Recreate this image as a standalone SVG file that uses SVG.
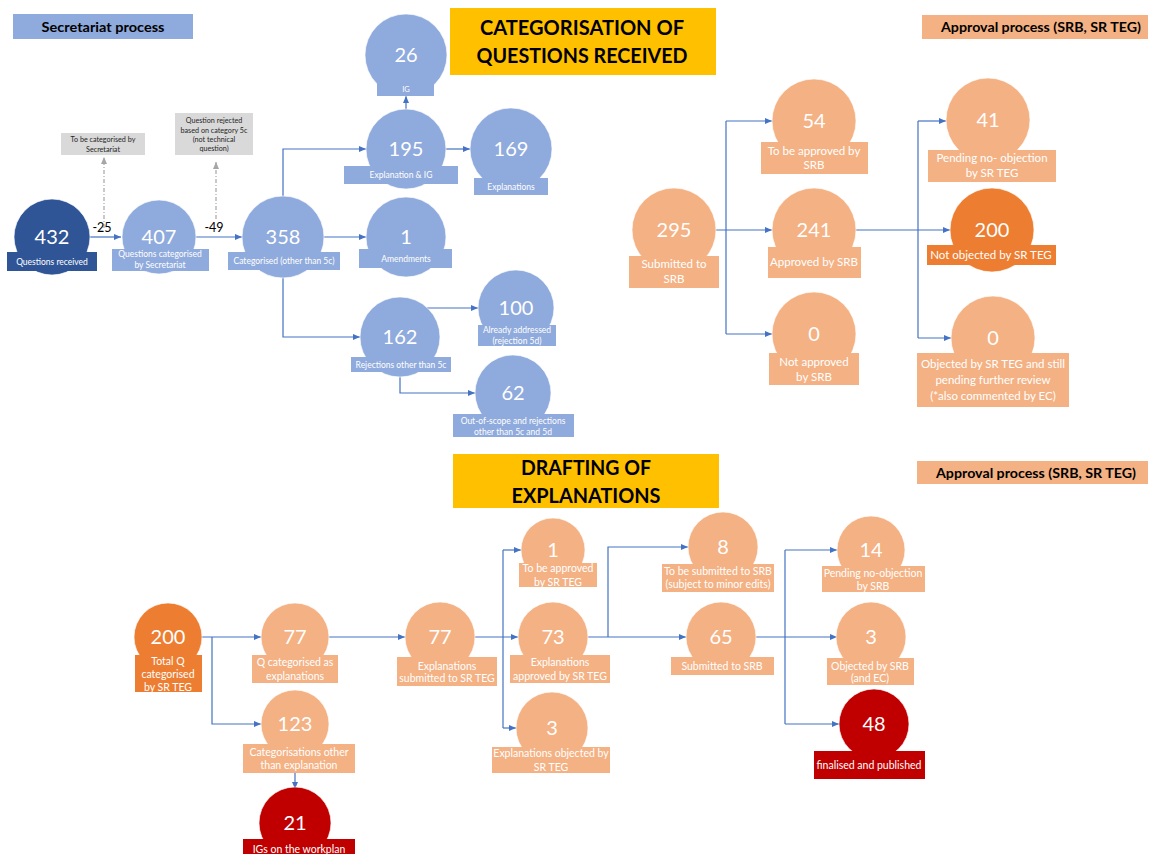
<svg xmlns="http://www.w3.org/2000/svg" width="1152" height="854" viewBox="0 0 1152 854">
<style>
text{font-family:Lato,"Liberation Sans",sans-serif;text-anchor:middle}
.b{fill:#8faadc}.db{fill:#2f5597}.lo{fill:#f4b183}.o{fill:#ed7d31}.r{fill:#c00000}.y{fill:#ffc000}.g{fill:#d9d9d9}
circle{stroke:#ffffff;stroke-width:1;stroke-opacity:0.6}
.n{fill:#fff;font-size:20px}
.ls{fill:#fff;font-size:8.5px}
.lm{fill:#fff;font-size:11.5px}
.lb{fill:#fff;font-size:10.5px}
.gt{fill:#262626;font-size:7.2px}
.h{fill:#000;font-weight:bold;font-size:14px}
.hb{fill:#000;font-weight:bold;font-size:20px}
.k{fill:#000;font-size:12.5px}
.c{fill:none;stroke:#4472c4;stroke-width:1.2}
.d{fill:none;stroke:#a6a6a6;stroke-width:1.2;stroke-dasharray:4 2 1 2}
</style>
<defs>
<marker id="a" markerUnits="userSpaceOnUse" markerWidth="7" markerHeight="6" refX="7" refY="3" orient="auto"><path d="M0,0 L7,3 L0,6 Z" fill="#4472c4"/></marker>
<marker id="ag" markerUnits="userSpaceOnUse" markerWidth="7" markerHeight="6" refX="7" refY="3" orient="auto"><path d="M0,0 L7,3 L0,6 Z" fill="#a6a6a6"/></marker>
</defs>

<g id="headers">
<rect class="b" x="13" y="14" width="180" height="25"/>
<text class="h" x="103" y="32" textLength="123" lengthAdjust="spacingAndGlyphs">Secretariat process</text>
<rect class="y" x="450" y="8" width="266" height="67"/>
<text class="hb" x="582" y="35" textLength="204" lengthAdjust="spacingAndGlyphs">CATEGORISATION OF</text>
<text class="hb" x="582" y="63" textLength="211" lengthAdjust="spacingAndGlyphs">QUESTIONS RECEIVED</text>
<rect class="lo" x="922" y="15" width="226" height="24"/>
<text class="h" x="1041" y="32" textLength="200" lengthAdjust="spacingAndGlyphs">Approval process (SRB, SR TEG)</text>
<rect class="y" x="453" y="454" width="266" height="54"/>
<text class="hb" x="586" y="475" textLength="130" lengthAdjust="spacingAndGlyphs">DRAFTING OF</text>
<text class="hb" x="586" y="503" textLength="149" lengthAdjust="spacingAndGlyphs">EXPLANATIONS</text>
<rect class="lo" x="917" y="461" width="231" height="23"/>
<text class="h" x="1036" y="478" textLength="200" lengthAdjust="spacingAndGlyphs">Approval process (SRB, SR TEG)</text>
</g>

<g id="connectors">
<path class="c" marker-end="url(#a)" d="M90 237 H121"/>
<path class="c" marker-end="url(#a)" d="M196 237 H242"/>
<path class="c" marker-end="url(#a)" d="M283 196 V149 H366"/>
<path class="c" marker-end="url(#a)" d="M324 237 H366"/>
<path class="c" marker-end="url(#a)" d="M283 278 V337 H360"/>
<path class="c" marker-end="url(#a)" d="M406 109 V96"/>
<path class="c" marker-end="url(#a)" d="M446 149 H470"/>
<path class="c" marker-end="url(#a)" d="M427 308 H478"/>
<path class="c" marker-end="url(#a)" d="M400 377 V393 H475"/>
<path class="d" marker-end="url(#ag)" d="M104 228 V157"/>
<path class="d" marker-end="url(#ag)" d="M216 219 V162"/>
<path class="c" marker-end="url(#a)" d="M716 230 H772"/>
<path class="c" d="M726 121 V334"/>
<path class="c" marker-end="url(#a)" d="M726 121 H772"/>
<path class="c" marker-end="url(#a)" d="M726 334 H772"/>
<path class="c" marker-end="url(#a)" d="M856 230 H950"/>
<path class="c" d="M918 121 V338"/>
<path class="c" marker-end="url(#a)" d="M918 121 H946"/>
<path class="c" marker-end="url(#a)" d="M918 338 H951"/>
<path class="c" marker-end="url(#a)" d="M202 637 H261"/>
<path class="c" marker-end="url(#a)" d="M212 637 V724 H261"/>
<path class="c" marker-end="url(#a)" d="M295 773 V789"/>
<path class="c" marker-end="url(#a)" d="M329 637 H405"/>
<path class="c" marker-end="url(#a)" d="M475 637 H518"/>
<path class="c" d="M503 550 V728"/>
<path class="c" marker-end="url(#a)" d="M503 550 H521"/>
<path class="c" marker-end="url(#a)" d="M503 728 H516"/>
<path class="c" marker-end="url(#a)" d="M588 637 H686"/>
<path class="c" marker-end="url(#a)" d="M608 637 V547 H688"/>
<path class="c" marker-end="url(#a)" d="M756 637 H837"/>
<path class="c" d="M785 550 V724"/>
<path class="c" marker-end="url(#a)" d="M785 550 H837"/>
<path class="c" marker-end="url(#a)" d="M785 724 H839"/>
<text class="k" x="102" y="232">-25</text>
<text class="k" x="214" y="232">-49</text>
</g>

<g id="note-25">
<rect class="g" x="61" y="133" width="84" height="22"/>
<text class="gt" x="103" y="142">To be categorised by</text>
<text class="gt" x="103" y="152">Secretariat</text>
</g>
<g id="note-49">
<rect class="g" x="175" y="113" width="78" height="42"/>
<text class="gt" x="214" y="123">Question rejected</text>
<text class="gt" x="214" y="133">based on category 5c</text>
<text class="gt" x="214" y="142">(not technical</text>
<text class="gt" x="214" y="151">question)</text>
</g>

<g id="n432"><circle class="db" cx="52" cy="237" r="38"/><rect class="db" x="7" y="252" width="90" height="19"/><text class="n" x="52" y="244">432</text><text class="ls" x="52" y="265">Questions received</text></g>
<g id="n407"><circle class="b" cx="159" cy="237" r="37"/><rect class="b" x="112" y="249" width="97" height="22"/><text class="n" x="159" y="244">407</text><text class="ls" x="160" y="257">Questions categorised</text><text class="ls" x="160" y="268">by Secretariat</text></g>
<g id="n358"><circle class="b" cx="283" cy="237" r="41"/><rect class="b" x="228" y="252" width="112" height="18"/><text class="n" x="283" y="244">358</text><text class="ls" x="284" y="264">Categorised (other than 5c)</text></g>
<g id="n26"><circle class="b" cx="406" cy="55" r="41"/><rect class="b" x="377" y="83" width="57" height="13"/><text class="n" x="406" y="62">26</text><text class="ls" x="406" y="92" style="font-size:7.5px">IG</text></g>
<g id="n195"><circle class="b" cx="406" cy="149" r="40"/><rect class="b" x="344" y="166" width="114" height="18"/><text class="n" x="406" y="156">195</text><text class="ls" x="401" y="178">Explanation &amp; IG</text></g>
<g id="n169"><circle class="b" cx="511" cy="149" r="41"/><rect class="b" x="474" y="178" width="74" height="17"/><text class="n" x="511" y="156">169</text><text class="ls" x="511" y="190">Explanations</text></g>
<g id="n1a"><circle class="b" cx="406" cy="237" r="40"/><rect class="b" x="359" y="249" width="93" height="19"/><text class="n" x="406" y="244">1</text><text class="ls" x="406" y="262">Amendments</text></g>
<g id="n162"><circle class="b" cx="400" cy="337" r="40"/><rect class="b" x="351" y="357" width="100" height="15"/><text class="n" x="400" y="344">162</text><text class="ls" x="401" y="368">Rejections other than 5c</text></g>
<g id="n100"><circle class="b" cx="516" cy="308" r="38"/><rect class="b" x="478" y="325" width="78" height="21"/><text class="n" x="516" y="315">100</text><text class="ls" x="517" y="333">Already addressed</text><text class="ls" x="517" y="344">(rejection 5d)</text></g>
<g id="n62"><circle class="b" cx="513" cy="393" r="38"/><rect class="b" x="453" y="414" width="121" height="23"/><text class="n" x="513" y="400">62</text><text class="ls" x="513" y="424">Out-of-scope and rejections</text><text class="ls" x="513" y="435">other than 5c and 5d</text></g>

<g id="n295"><circle class="lo" cx="674" cy="230" r="42"/><rect class="lo" x="629" y="256" width="90" height="32"/><text class="n" x="674" y="237">295</text><text class="lm" x="674" y="268">Submitted to</text><text class="lm" x="674" y="283">SRB</text></g>
<g id="n54"><circle class="lo" cx="814" cy="121" r="42"/><rect class="lo" x="761" y="142" width="107" height="32"/><text class="n" x="814" y="128">54</text><text class="lm" x="814" y="155">To be approved  by</text><text class="lm" x="814" y="169">SRB</text></g>
<g id="n241"><circle class="lo" cx="814" cy="230" r="42"/><rect class="lo" x="768" y="247" width="93" height="31"/><text class="n" x="814" y="237">241</text><text class="lm" x="814" y="266">Approved by SRB</text></g>
<g id="n0a"><circle class="lo" cx="814" cy="334" r="42"/><rect class="lo" x="769" y="353" width="90" height="32"/><text class="n" x="814" y="341">0</text><text class="lm" x="814" y="366">Not approved</text><text class="lm" x="814" y="381">by SRB</text></g>
<g id="n41"><circle class="lo" cx="988" cy="120" r="42"/><rect class="lo" x="928" y="150" width="128" height="32"/><text class="n" x="988" y="127">41</text><text class="lm" x="992" y="162">Pending no- objection</text><text class="lm" x="992" y="177">by SR TEG</text></g>
<g id="n200a"><circle class="o" cx="992" cy="230" r="42"/><rect class="o" x="927" y="245" width="129" height="20"/><text class="n" x="992" y="237">200</text><text class="lm" x="991" y="259">Not objected by SR TEG</text></g>
<g id="n0b"><circle class="lo" cx="993" cy="338" r="42"/><rect class="lo" x="917" y="353" width="152" height="54"/><text class="n" x="993" y="345">0</text><text class="lm" x="993" y="368">Objected by SR TEG and still</text><text class="lm" x="993" y="384">pending further review</text><text class="lm" x="993" y="400">(*also commented by EC)</text></g>

<g id="b200"><circle class="o" cx="168" cy="637" r="34"/><rect class="o" x="135" y="655" width="67" height="37"/><text class="n" x="168" y="644">200</text><text class="lb" x="168" y="665">Total Q</text><text class="lb" x="168" y="678">categorised</text><text class="lb" x="168" y="691">by SR TEG</text></g>
<g id="b77a"><circle class="lo" cx="295" cy="637" r="34"/><rect class="lo" x="252" y="655" width="86" height="28"/><text class="n" x="295" y="644">77</text><text class="lb" x="295" y="666">Q categorised as</text><text class="lb" x="295" y="680">explanations</text></g>
<g id="b123"><circle class="lo" cx="295" cy="724" r="34"/><rect class="lo" x="243" y="744" width="112" height="29"/><text class="n" x="295" y="731">123</text><text class="lb" x="299" y="756">Categorisations other</text><text class="lb" x="299" y="769">than explanation</text></g>
<g id="b21"><circle class="r" cx="295" cy="823" r="36"/><rect class="r" x="243" y="839" width="112" height="20"/><text class="n" x="295" y="830">21</text><text class="lb" x="299" y="853">IGs on the workplan</text></g>
<g id="b77b"><circle class="lo" cx="440" cy="637" r="35"/><rect class="lo" x="397" y="657" width="100" height="29"/><text class="n" x="440" y="644">77</text><text class="lb" x="447" y="670">Explanations</text><text class="lb" x="447" y="682">submitted to SR TEG</text></g>
<g id="b1"><circle class="lo" cx="553" cy="550" r="32"/><rect class="lo" x="519" y="563" width="78" height="24"/><text class="n" x="553" y="557">1</text><text class="lb" x="558" y="572">To be approved</text><text class="lb" x="558" y="586">by SR TEG</text></g>
<g id="b73"><circle class="lo" cx="553" cy="637" r="35"/><rect class="lo" x="510" y="655" width="100" height="28"/><text class="n" x="553" y="644">73</text><text class="lb" x="560" y="666">Explanations</text><text class="lb" x="560" y="680">approved by SR TEG</text></g>
<g id="b3a"><circle class="lo" cx="552" cy="728" r="36"/><rect class="lo" x="492" y="747" width="118" height="26"/><text class="n" x="552" y="735">3</text><text class="lb" x="551" y="757">Explanations objected by</text><text class="lb" x="551" y="771">SR TEG</text></g>
<g id="b8"><circle class="lo" cx="723" cy="547" r="35"/><rect class="lo" x="662" y="564" width="112" height="28"/><text class="n" x="723" y="554">8</text><text class="lb" x="718" y="575">To be submitted to SRB</text><text class="lb" x="718" y="588">(subject to minor edits)</text></g>
<g id="b65"><circle class="lo" cx="721" cy="637" r="35"/><rect class="lo" x="671" y="657" width="103" height="18"/><text class="n" x="721" y="644">65</text><text class="lb" x="722" y="670">Submitted to SRB</text></g>
<g id="b14"><circle class="lo" cx="871" cy="550" r="34"/><rect class="lo" x="822" y="566" width="103" height="26"/><text class="n" x="871" y="557">14</text><text class="lb" x="873" y="577">Pending no-objection</text><text class="lb" x="873" y="590">by SRB</text></g>
<g id="b3b"><circle class="lo" cx="871" cy="637" r="35"/><rect class="lo" x="827" y="658" width="87" height="27"/><text class="n" x="871" y="644">3</text><text class="lb" x="870" y="670">Objected by SRB</text><text class="lb" x="870" y="682">(and EC)</text></g>
<g id="b48"><circle class="r" cx="874" cy="724" r="35"/><rect class="r" x="814" y="751" width="111" height="28"/><text class="n" x="874" y="731">48</text><text class="lb" x="869" y="769">finalised and published</text></g>
</svg>
